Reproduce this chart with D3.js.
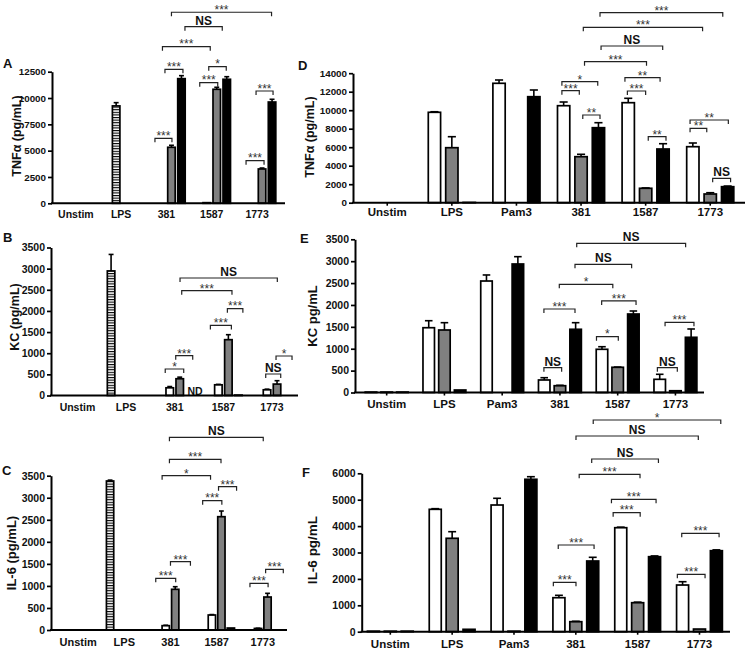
<!DOCTYPE html>
<html><head><meta charset="utf-8">
<script src="https://cdn.jsdelivr.net/npm/d3@7"></script>
<style>
html,body{margin:0;padding:0;background:#fff;}
svg{display:block;font-family:"Liberation Sans",Arial,sans-serif;}
</style></head><body>
<svg id="chart" width="747" height="651"></svg>
<script>
// ---------------- DATA ----------------
const catsABC = ["Unstim","LPS","381","1587","1773"];
const catsDEF = ["Unstim","LPS","Pam3","381","1587","1773"];

// Panel A – TNFα (pg/mL)
const aTicks = [0,2500,5000,7500,10000,12500];
const aLps = [null,9250,null,null,null];
const aLpsErr = [0,310,0,0,0];
const aWhite = [0,null,0,60,0];
const aWhiteErr = [0,0,0,0,0];
const aGray = [0,0,5320,10830,3260];
const aGrayErr = [0,0,190,190,90];
const aBlack = [0,0,11840,11780,9620];
const aBlackErr = [0,0,285,245,260];
const aBrackets = [
  ["381",0.35,"381",2.05,6175,"***"],
  ["381",1.35,"381",3.15,12730,"***"],
  ["1587",0.3,"1587",2.1,11457,"***"],
  ["1587",1.2,"1587",2.95,12977,"*"],
  ["1773",0.4,"1773",2.2,4047,"***"],
  ["1773",1.4,"1773",3.1,10669,"***"],
  ["381",1.1,"1587",1.35,14877,"***"],
  ["381",3.35,"1587",2.55,16777,"NS"],
  ["381",2.0,"1773",2.95,18146,"***"]
];

// Panel B – KC (pg/mL)
const bTicks = [0,500,1000,1500,2000,2500,3000,3500];
const bLps = [null,2946,null,null,null];
const bLpsErr = [0,390,0,0,0];
const bWhite = [0,0,182,253,135];
const bWhiteErr = [0,0,30,10,15];
const bGray = [0,0,396,1320,270];
const bGrayErr = [0,0,38,118,80];
const bBlack = [0,0,null,10,0];
const bBlackErr = [0,0,0,0,0];
const bNotDetected = [null,null,"ND",null,null];
const bBrackets = [
  ["381",0.55,"381",2.4,627,"*"],
  ["381",1.6,"381",3.3,941,"***"],
  ["1587",0.2,"1587",2.3,1656,"***"],
  ["1587",1.9,"1587",3.45,2053,"***"],
  ["1773",0.87,"1773",2.37,508,"NS"],
  ["1773",1.9,"1773",3.5,934,"*"],
  ["381",2.2,"1587",2.36,2478,"***"],
  ["381",2.03,"1773",2.03,2779,"NS"]
];

// Panel C – IL-6 (pg/mL)
const cTicks = [0,500,1000,1500,2000,2500,3000,3500];
const cLps = [null,3380,null,null,null];
const cLpsErr = [0,20,0,0,0];
const cWhite = [0,0,98,340,35];
const cWhiteErr = [0,0,10,10,5];
const cGray = [0,0,923,2570,748];
const cGrayErr = [0,0,59,129,84];
const cBlack = [0,0,0,45,0];
const cBlackErr = [0,0,0,0,0];
const cBrackets = [
  ["381",-0.05,"381",2.05,1172,"***"],
  ["381",1.5,"381",3.6,1549,"***"],
  ["1587",0.03,"1587",2.05,2933,"***"],
  ["1587",1.7,"1587",3.6,3250,"***"],
  ["1773",0.15,"1773",2.06,1059,"***"],
  ["1773",1.8,"1773",3.66,1376,"***"],
  ["381",0.62,"1587",0.86,3500,"*"],
  ["381",1.39,"1587",1.96,3871,"***"],
  ["381",1.39,"1773",1.55,4370,"NS"]
];

// Panel D – TNFα (pg/mL)
const dTicks = [0,2000,4000,6000,8000,10000,12000,14000];
const dWhite = [0,9773,12908,10486,10811,6054];
const dWhiteErr = [0,60,357,400,475,400];
const dGray = [0,5946,0,4973,1557,940];
const dGrayErr = [0,1189,0,259,40,140];
const dBlack = [0,30,11460,8108,5805,1730];
const dBlackErr = [0,0,724,541,573,70];
const dBrackets = [
  ["381",-0.1,"381",0.9,12107,"***"],
  ["381",1.1,"381",2.09,9480,"**"],
  ["381",-0.1,"381",1.96,13080,"*"],
  ["1587",-0.05,"1587",1.0,12075,"***"],
  ["1587",-0.19,"1587",1.83,13513,"**"],
  ["1587",1.15,"1587",2.17,7135,"**"],
  ["1773",-0.16,"1773",0.8,8043,"**"],
  ["1773",-0.16,"1773",2.04,8940,"**"],
  ["1773",1.14,"1773",2.17,2638,"NS"],
  ["381",1.2,"1587",1.05,15242,"***"],
  ["381",2.15,"1587",1.98,16940,"NS"],
  ["381",1.13,"1773",0.56,18960,"***"],
  ["381",2.09,"1773",1.72,20540,"***"]
];

// Panel E – KC pg/mL
const eTicks = [0,500,1000,1500,2000,2500,3000,3500];
const eWhite = [10,1480,2547,286,987,301];
const eWhiteErr = [0,160,138,52,59,115];
const eGray = [10,1428,0,155,576,40];
const eGrayErr = [0,167,0,10,5,0];
const eBlack = [10,57,2936,1444,1793,1261];
const eBlackErr = [0,0,167,151,69,190];
const eBrackets = [
  ["381",-0.02,"381",1.11,567,"NS"],
  ["381",-0.02,"381",1.96,1908,"***"],
  ["1587",-0.35,"1587",1.04,1275,"*"],
  ["1587",-0.02,"1587",2.17,2091,"***"],
  ["1773",-0.15,"1773",1.12,567,"NS"],
  ["1773",0.34,"1773",2.18,1604,"***"],
  ["381",0.96,"1587",0.69,2472,"*"],
  ["381",1.96,"1587",1.89,2929,"NS"],
  ["381",2.07,"1773",1.65,3409,"NS"]
];

// Panel F – IL-6 pg/mL
const fTicks = [0,1000,2000,3000,4000,5000,6000];
const fWhite = [20,4636,4799,1288,3939,1768];
const fWhiteErr = [0,24,254,90,21,126];
const fGray = [20,3538,20,379,1098,100];
const fGrayErr = [0,250,0,16,22,0];
const fBlack = [20,90,5773,2678,2841,3068];
const fBlackErr = [0,0,98,140,29,32];
const fBrackets = [
  ["381",-0.33,"381",1.01,1871,"***"],
  ["381",-0.04,"381",2.08,3284,"***"],
  ["1587",-0.45,"1587",1.15,4508,"***"],
  ["1587",-0.55,"1587",2.09,5015,"***"],
  ["1773",-0.31,"1773",1.33,2174,"***"],
  ["1773",-0.05,"1773",2.16,3727,"***"],
  ["381",1.2,"1587",1.14,5962,"***"],
  ["381",1.94,"1587",2.23,6542,"NS"],
  ["381",1.01,"1773",0.93,7413,"NS"],
  ["381",2.03,"1773",2.26,8019,"*"]
];

// ---------------- PANELS (layout + styles) ----------------
const panels = [
  {letter:"A", letterPos:[3,68], title:"TNFα (pg/mL)", titlePos:[18,136], titleSize:12.5,
   cats:catsABC, ticks:aTicks, nSlots:4, pitch:10, barW:7.5,
   axisX:52, axisEnd:285, xRange:[53.2,279.7], yRange:[203.3,71.7], catSize:10.5, catDy:14.5, xTick:0,
   series:[{v:aLps,e:aLpsErr,style:"hatch",slot:1},{v:aWhite,e:aWhiteErr,style:"white",slot:1},
           {v:aGray,e:aGrayErr,style:"gray",slot:2},{v:aBlack,e:aBlackErr,style:"black",slot:3}],
   brackets:aBrackets},
  {letter:"B", letterPos:[3,242], title:"KC (pg/mL)", titlePos:[16,317], titleSize:12.5,
   cats:catsABC, ticks:bTicks, nSlots:4, pitch:10, barW:7.5,
   axisX:51, axisEnd:298, xRange:[53.1,296.35], yRange:[395.5,247.5], catSize:10.5, catDy:15.5, xTick:0,
   series:[{v:bLps,e:bLpsErr,style:"hatch",slot:0},{v:bWhite,e:bWhiteErr,style:"white",slot:1},
           {v:bGray,e:bGrayErr,style:"gray",slot:2},{v:bBlack,e:bBlackErr,style:"black",slot:3}],
   notes:{v:bNotDetected,slot:3},
   brackets:bBrackets},
  {letter:"C", letterPos:[2,475], title:"IL-6 (pg/mL)", titlePos:[13,553], titleSize:13,
   cats:catsABC, ticks:cTicks, nSlots:4, pitch:9.5, barW:7.3,
   axisX:51, axisEnd:287, xRange:[55.1,285.85], yRange:[630,475.7], catSize:11, catDy:16, xTick:0,
   series:[{v:cLps,e:cLpsErr,style:"hatch",slot:0},{v:cWhite,e:cWhiteErr,style:"white",slot:1},
           {v:cGray,e:cGrayErr,style:"gray",slot:2},{v:cBlack,e:cBlackErr,style:"black",slot:3}],
   brackets:cBrackets},
  {letter:"D", letterPos:[298,70], title:"TNFα (pg/mL)", titlePos:[311,137], titleSize:12.5,
   cats:catsDEF, ticks:dTicks, nSlots:3, pitch:17.4, barW:12.3,
   axisX:353, axisEnd:745, xRange:[354.94,742.54], yRange:[202.7,73.2], catSize:11.5, catDy:13.8, xTick:3,
   series:[{v:dWhite,e:dWhiteErr,style:"white",slot:0},{v:dGray,e:dGrayErr,style:"gray",slot:1},
           {v:dBlack,e:dBlackErr,style:"black",slot:2}],
   brackets:dBrackets},
  {letter:"E", letterPos:[300,243], title:"KC pg/mL", titlePos:[314,316], titleSize:13,
   cats:catsDEF, ticks:eTicks, nSlots:3, pitch:15.7, barW:11.5,
   axisX:355, axisEnd:704, xRange:[357.8,704.3], yRange:[392.5,239.3], catSize:11.5, catDy:15.5, xTick:3,
   series:[{v:eWhite,e:eWhiteErr,style:"white",slot:0},{v:eGray,e:eGrayErr,style:"gray",slot:1},
           {v:eBlack,e:eBlackErr,style:"black",slot:2}],
   brackets:eBrackets},
  {letter:"F", letterPos:[302,477], title:"IL-6 pg/mL", titlePos:[313,550], titleSize:13.5,
   cats:catsDEF, ticks:fTicks, nSlots:3, pitch:16.9, barW:12,
   axisX:361.7, axisEnd:730, xRange:[359.4,730.4], yRange:[631.7,473.3], catSize:11.5, catDy:16.5, xTick:3,
   series:[{v:fWhite,e:fWhiteErr,style:"white",slot:0},{v:fGray,e:fGrayErr,style:"gray",slot:1},
           {v:fBlack,e:fBlackErr,style:"black",slot:2}],
   brackets:fBrackets}
];

// ---------------- DRAW ----------------
const svg = d3.select("#chart");
svg.append("rect").attr("width",747).attr("height",651).attr("fill","#fff");
const defs = svg.append("defs");
const pat = defs.append("pattern").attr("id","hatch").attr("patternUnits","userSpaceOnUse")
  .attr("width",8).attr("height",2.6);
pat.append("rect").attr("width",8).attr("height",2.6).attr("fill","#fff");
pat.append("rect").attr("y",0).attr("width",8).attr("height",1.1).attr("fill","#000");

const fills = {hatch:"url(#hatch)", white:"#ffffff", gray:"#808080", black:"#000000"};
const FONT = '"Liberation Sans",Arial,sans-serif';

panels.forEach(p => {
  const g = svg.append("g");
  const yMax = p.ticks[p.ticks.length-1];
  const x = d3.scaleBand().domain(p.cats).range(p.xRange).padding(0);
  const y = d3.scaleLinear().domain([0,yMax]).range(p.yRange);
  const slotX = (cat,s) => x(cat) + x.bandwidth()/2 + (s - (p.nSlots-1)/2) * p.pitch;

  // bars
  p.series.forEach(sr => {
    const data = p.cats.map((c,i)=>({c, v:sr.v[i], e:sr.e ? sr.e[i] : 0})).filter(d => d.v !== null);
    g.append("g").selectAll("rect").data(data).join("rect")
      .attr("x", d => slotX(d.c, sr.slot) - p.barW/2)
      .attr("y", d => y(d.v))
      .attr("width", p.barW)
      .attr("height", d => Math.max(0, y(0) - y(d.v)))
      .attr("fill", fills[sr.style])
      .attr("stroke", "#000").attr("stroke-width", 1.7);
    const errs = data.filter(d => d.e > 0);
    const eg = g.append("g").attr("stroke","#000").attr("stroke-width",1.6);
    eg.selectAll("line.v").data(errs).join("line").attr("class","v")
      .attr("x1", d => slotX(d.c, sr.slot)).attr("x2", d => slotX(d.c, sr.slot))
      .attr("y1", d => y(d.v)).attr("y2", d => y(d.v + d.e));
    eg.selectAll("line.c").data(errs).join("line").attr("class","c")
      .attr("x1", d => slotX(d.c, sr.slot) - p.barW*0.33).attr("x2", d => slotX(d.c, sr.slot) + p.barW*0.33)
      .attr("y1", d => y(d.v + d.e)).attr("y2", d => y(d.v + d.e));
  });

  // not-detected notes
  if (p.notes) {
    p.cats.forEach((c,i) => {
      if (p.notes.v[i]) {
        g.append("text").attr("x", slotX(c, p.notes.slot) - p.barW/2 + 1.5).attr("y", y(0) - 1)
          .attr("font-size", 10.5).attr("font-weight","bold").attr("fill","#111").text(p.notes.v[i]);
      }
    });
  }

  // y axis
  const ya = g.append("g").attr("transform", `translate(${p.axisX},0)`)
    .call(d3.axisLeft(y).tickValues(p.ticks).tickSize(4).tickPadding(2).tickSizeOuter(0).tickFormat(d3.format("d")));
  ya.select(".domain").attr("stroke-width",2);
  ya.selectAll(".tick line").attr("stroke-width",1.7);
  ya.selectAll("text").attr("font-size", yMax >= 10000 ? 9.8 : 10.5)
    .attr("font-weight","bold").attr("fill","#111").attr("font-family",FONT);

  // x axis
  const xa = g.append("g").attr("transform", `translate(0,${y(0)})`)
    .call(d3.axisBottom(x).tickSize(p.xTick).tickSizeOuter(0));
  xa.select(".domain").remove();
  xa.selectAll(".tick line").attr("stroke-width",1.6);
  xa.selectAll("text").attr("y", p.catDy).attr("dy", null)
    .attr("font-size", p.catSize).attr("font-weight","bold").attr("fill","#111")
    .attr("font-family",FONT);
  g.append("line").attr("x1", p.axisX - 1).attr("x2", p.axisEnd).attr("y1", y(0)).attr("y2", y(0))
    .attr("stroke","#000").attr("stroke-width",2);

  // significance brackets
  const bg = g.append("g");
  p.brackets.forEach(b => {
    const x1 = slotX(b[0], b[1]), x2 = slotX(b[2], b[3]), yb = y(b[4]);
    bg.append("path").attr("d", `M${x1},${yb+4}V${yb}H${x2}V${yb+4}`)
      .attr("fill","none").attr("stroke","#222").attr("stroke-width",1.2);
    const isNS = b[5] === "NS";
    bg.append("text").attr("x", (x1+x2)/2).attr("y", isNS ? yb - 2 : yb + 1.8)
      .attr("text-anchor","middle")
      .attr("font-size", 12).attr("font-weight", isNS ? "bold" : "normal")
      .attr("fill", isNS ? "#111" : "#333").text(b[5]);
  });

  // titles
  g.append("text").attr("transform", `translate(${p.titlePos[0]},${p.titlePos[1]}) rotate(-90)`)
    .attr("text-anchor","middle").attr("dominant-baseline","middle")
    .attr("font-size", p.titleSize).attr("font-weight","bold").attr("fill","#111").text(p.title);
  g.append("text").attr("x", p.letterPos[0]).attr("y", p.letterPos[1])
    .attr("font-size", 13).attr("font-weight","bold").attr("fill","#111").text(p.letter);
});
</script>
</body></html>
